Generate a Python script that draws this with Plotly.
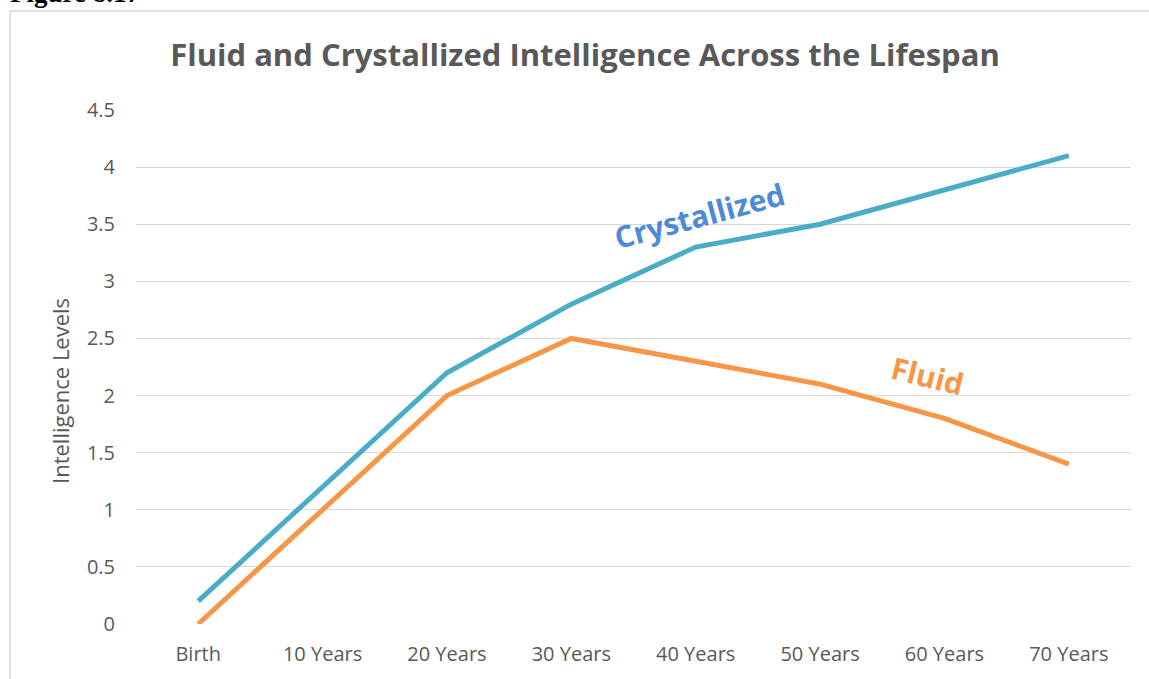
import plotly.graph_objects as go

ages = ["Birth", "10 Years", "20 Years", "30 Years", "40 Years", "50 Years", "60 Years", "70 Years"]
crystallized = [0.2, 1.2, 2.2, 2.8, 3.3, 3.5, 3.8, 4.1]
fluid = [0.0, 1.0, 2.0, 2.5, 2.3, 2.1, 1.8, 1.4]
y_ticks = [0, 0.5, 1, 1.5, 2, 2.5, 3, 3.5, 4, 4.5]
y_tick_text = ["0", "0.5", "1", "1.5", "2", "2.5", "3", "3.5", "4", "4.5"]

FONT = "Open Sans"
GRAY = "#595959"

fig = go.Figure()
fig.add_trace(go.Scatter(x=ages, y=crystallized, mode="lines", name="Crystallized",
                         line=dict(color="#4BACC6", width=5)))
fig.add_trace(go.Scatter(x=ages, y=fluid, mode="lines", name="Fluid",
                         line=dict(color="#F79646", width=5)))

W, H = 1149, 679
L, R, T, B = 136, 18, 110, 55
pw, ph = W - L - R, H - T - B

def px_x(v):
    return (v - L) / pw

def px_y(v):
    return (H - B - v) / ph

fig.update_layout(
    width=W, height=H,
    margin=dict(l=L, r=R, t=T, b=B),
    paper_bgcolor="white", plot_bgcolor="white",
    showlegend=False,
    font=dict(family=FONT, color=GRAY, size=20),
    title=dict(text="<b>Fluid and Crystallized Intelligence Across the Lifespan</b>",
               x=px_x(585), xref="paper", xanchor="center",
               y=1 - 55 / H, yanchor="middle",
               font=dict(family=FONT, size=31, color=GRAY)),
    xaxis=dict(type="category", categoryorder="array", categoryarray=ages,
               range=[-0.5, len(ages) - 0.5], showgrid=False, zeroline=False,
               showline=False, ticks="", ticklabelstandoff=16,
               tickfont=dict(size=20, color=GRAY)),
    yaxis=dict(range=[0, 4.5], tickvals=y_ticks, ticktext=y_tick_text,
               showgrid=True, gridcolor="#D9D9D9", gridwidth=1.3,
               zeroline=False, showline=False, ticks="", ticklabelstandoff=20,
               tickfont=dict(size=20, color=GRAY)),
)

# Chart frame
fig.add_shape(type="rect", xref="paper", yref="paper",
              x0=px_x(10), x1=px_x(1160), y0=px_y(690), y1=px_y(11),
              line=dict(color="#D9D9D9", width=1.5), fillcolor="rgba(0,0,0,0)",
              layer="below")

# Vertical axis title
fig.add_annotation(x=px_x(60), y=px_y(391), xref="paper", yref="paper",
                   xanchor="center", yanchor="middle",
                   text="Intelligence Levels", showarrow=False, textangle=-90,
                   font=dict(family=FONT, size=22, color=GRAY))

# Series labels
fig.add_annotation(x=4.03, y=3.58, xref="x", yref="y", text="<b>Crystallized</b>",
                   showarrow=False, textangle=-15,
                   font=dict(family=FONT, size=30, color="#4E8AD6"))
fig.add_annotation(x=5.86, y=2.18, xref="x", yref="y", text="<b>Fluid</b>",
                   showarrow=False, textangle=14,
                   font=dict(family=FONT, size=30, color="#F79646"))

# Figure caption above the frame
fig.add_annotation(x=px_x(8), y=px_y(10), xref="paper", yref="paper",
                   xanchor="left", yanchor="bottom", text="<b>Figure 8.17</b>",
                   showarrow=False,
                   font=dict(family="Liberation Serif", size=27, color="black"))

fig.write_html("out.html")
